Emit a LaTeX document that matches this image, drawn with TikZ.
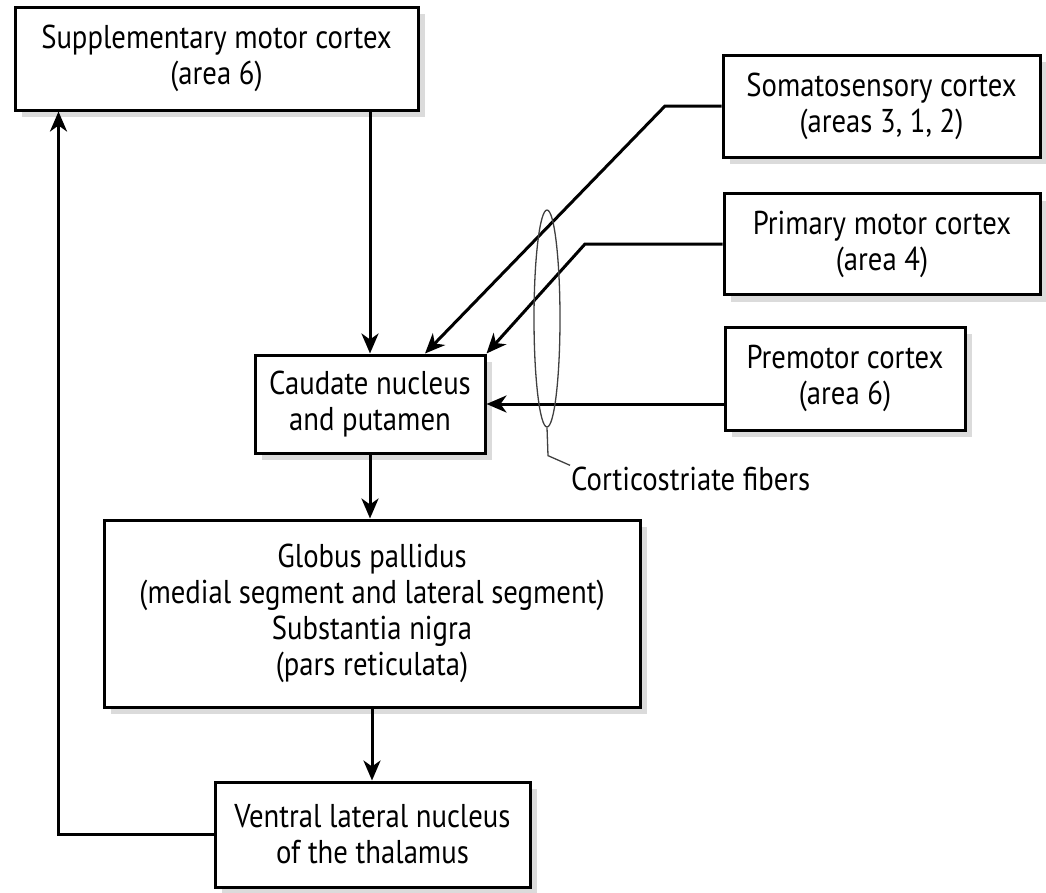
\documentclass[tikz,border=0pt]{standalone}
\usepackage{fontspec}
\setmainfont[FakeStretch=0.87]{PT Sans}
\usepackage{tikz}
\usetikzlibrary{calc, arrows.meta, positioning, shapes.geometric, shadows}

\begin{document}
\begin{tikzpicture}[x=1pt, y=-1pt]

    % Styles
    \tikzset{
        boxstyle/.style={rectangle, draw, line width=3pt, fill=white, align=center,
            font=\fontsize{33}{36}\selectfont,
            drop shadow={fill=gray!28, opacity=1, shadow xshift=7pt, shadow yshift=-7pt}},
        arrow/.style={-{Stealth[length=20pt, width=17pt, inset=6pt]}, line width=3pt},
        thinline/.style={line width=1.3pt, black!75}
    }

    \useasboundingbox (0,0) rectangle (1046,892);

    % Cortical areas
    \node[boxstyle, minimum width=403, minimum height=103] (supp) at (216.5, 58.5) {Supplementary motor cortex\\(area 6)};
    \node[boxstyle, minimum width=317, minimum height=102] (soma) at (881.5, 106) {Somatosensory cortex\\(areas 3, 1, 2)};
    \node[boxstyle, minimum width=316, minimum height=101] (prim) at (882, 244) {Primary motor cortex\\(area 4)};
    \node[boxstyle, minimum width=240, minimum height=103] (prem) at (845, 378.5) {Premotor cortex\\(area 6)};

    % Basal ganglia and thalamus
    \node[boxstyle, minimum width=230, minimum height=98] (caud) at (370, 404) {Caudate nucleus\\and putamen};
    \node[boxstyle, minimum width=536, minimum height=187] (glob) at (372, 613.5) {Globus pallidus\\(medial segment and lateral segment)\\Substantia nigra\\(pars reticulata)};
    \node[boxstyle, minimum width=315, minimum height=105] (vent) at (372.5, 834.5) {Ventral lateral nucleus\\of the thalamus};

    % Bends
    \coordinate (sbend) at (665, 106);
    \coordinate (pbend) at (585, 244);

    % Arrows
    \draw[arrow] (caud.north |- supp.south) -- (caud.north);
    \draw[arrow] (soma.west) -- (sbend) -- ([xshift=55pt]caud.north);
    \draw[arrow] (prim.west) -- (pbend) -- (caud.north east);
    \draw[arrow] (prem.west |- caud.east) -- (caud.east);
    \draw[arrow] (caud.south) -- (caud.south |- glob.north);
    \draw[arrow] (glob.south) -- (glob.south |- vent.north);
    \draw[arrow] (vent.west) -| ($(supp.south west)+(45,0)$);

    % Corticostriate fibers
    \node[ellipse, draw, thinline, minimum width=26, minimum height=217, inner sep=0pt] (fibers) at (547, 318.5) {};
    \node[font=\fontsize{33}{36}\selectfont, anchor=base west, inner sep=1pt] (cflab) at (570, 490) {Corticostriate fibers};
    \draw[thinline] (fibers.south) -- ++(1, 28) -- (cflab.north west);

\end{tikzpicture}
\end{document}
